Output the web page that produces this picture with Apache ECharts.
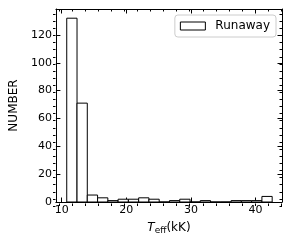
<!DOCTYPE html>
<html><head><meta charset="utf-8">
<script src="https://cdn.jsdelivr.net/npm/echarts@6/dist/echarts.min.js"></script>
<style>html,body{margin:0;padding:0;background:#fff}#c{width:300px;height:240px}</style>
</head><body><div id="c"></div>
<script>
// Histogram bin edges (kK) and counts
const binEdges = [10.78, 12.37, 13.96, 15.55, 17.14, 18.73, 20.32, 21.91, 23.50, 25.09, 26.68,
                  28.27, 29.86, 31.45, 33.04, 34.63, 36.22, 37.81, 39.40, 40.99, 42.58];
const counts = [132, 71, 5, 3, 1, 2, 2, 3, 2, 0, 1, 2, 0, 1, 0, 0, 1, 1, 1, 4];
const xMajorTicks = [10, 20, 30, 40];
const xMinorTicks = [10, 12, 14, 16, 18, 20, 22, 24, 26, 28, 30, 32, 34, 36, 38, 40, 42, 44];
const yMajorTicks = [0, 20, 40, 60, 80, 100, 120];
const yMinorTicks = [0, 5, 10, 15, 20, 25, 30, 35, 40, 45, 50, 55, 60, 65, 70, 75, 80, 85, 90, 95, 100, 105, 110, 115, 120, 125, 130, 135];
const seriesName = 'Runaway';

const FONT = 'DejaVu Sans';
const AX = '#000';
const xMin = 9.1, xMax = 44.1, yMin = 0, yMax = 138.6;

function xAx(g, pos, ticks, len, labels, line, extra) {
  return Object.assign({
    type: 'value', position: pos, min: xMin, max: xMax, gridIndex: g,
    axisLine: {show: line, onZero: false, lineStyle: {color: AX, width: 1}},
    axisTick: {show: true, inside: true, length: len, customValues: ticks, lineStyle: {color: AX, width: 1}},
    axisLabel: labels ? {show: true, customValues: ticks, color: '#000', fontFamily: FONT, fontSize: 11, margin: 3} : {show: false},
    splitLine: {show: false}
  }, extra || {});
}
function yAx(g, pos, ticks, len, labels, line, extra) {
  return Object.assign({
    type: 'value', position: pos, min: yMin, max: yMax, gridIndex: g,
    axisLine: {show: line, onZero: false, lineStyle: {color: AX, width: 1}},
    axisTick: {show: true, inside: true, length: len, customValues: ticks, lineStyle: {color: AX, width: 1}},
    axisLabel: labels ? {show: true, customValues: ticks, color: '#000', fontFamily: FONT, fontSize: 11, margin: 4} : {show: false},
    splitLine: {show: false}
  }, extra || {});
}

const G = {left: 53, right: 18, top: 9, bottom: 34, containLabel: false};
const chart = echarts.init(document.getElementById('c'), null, {renderer: 'canvas'});
chart.setOption({
  animation: false,
  backgroundColor: '#fff',
  grid: [Object.assign({}, G), Object.assign({}, G)],
  legend: {
    right: 24, top: 15,
    data: [{name: seriesName, icon: 'rect', itemStyle: {color: '#fff', borderColor: '#000', borderWidth: 1}}],
    itemWidth: 25, itemHeight: 8,
    padding: [5, 6, 5, 5],
    backgroundColor: '#fff', borderColor: '#cccccc', borderWidth: 1, borderRadius: 3,
    textStyle: {fontFamily: FONT, fontSize: 12, color: '#000', padding: [0, 0, 0, 5]}
  },
  xAxis: [
    xAx(0, 'bottom', xMajorTicks, 4.5, true, true, {
      name: '{i|T}{s|eff}{n|(kK)}', nameLocation: 'middle', nameGap: 19,
      nameTextStyle: {rich: {
        i: {fontFamily: FONT, fontStyle: 'italic', fontSize: 12, color: '#000'},
        s: {fontFamily: FONT, fontSize: 9, color: '#000', padding: [5, 0, 0, 0]},
        n: {fontFamily: FONT, fontSize: 12, color: '#000'}
      }}
    }),
    xAx(0, 'top', xMajorTicks, 4.5, false, true),
    xAx(1, 'bottom', xMinorTicks, 2.5, false, false),
    xAx(1, 'top', xMinorTicks, 2.5, false, false)
  ],
  yAxis: [
    yAx(0, 'left', yMajorTicks, 4.5, true, true, {
      name: 'NUMBER', nameLocation: 'middle', nameGap: 27,
      nameTextStyle: {fontFamily: FONT, fontSize: 12, color: '#000'}
    }),
    yAx(0, 'right', yMajorTicks, 4.5, false, true),
    yAx(1, 'left', yMinorTicks, 2.5, false, false),
    yAx(1, 'right', yMinorTicks, 2.5, false, false)
  ],
  series: [{
    name: seriesName, type: 'custom', xAxisIndex: 0, yAxisIndex: 0,
    itemStyle: {color: '#fff', borderColor: '#000'},
    encode: {x: [0, 1], y: 2},
    data: counts.map((c, i) => [binEdges[i], binEdges[i + 1], c]),
    renderItem: function (params, api) {
      const p0 = api.coord([api.value(0), api.value(2)]);
      const p1 = api.coord([api.value(1), 0]);
      return {type: 'rect', shape: {x: p0[0], y: p0[1], width: p1[0] - p0[0], height: p1[1] - p0[1]},
              style: {fill: '#fff', stroke: '#000', lineWidth: 1}};
    }
  }]
});
</script></body></html>
